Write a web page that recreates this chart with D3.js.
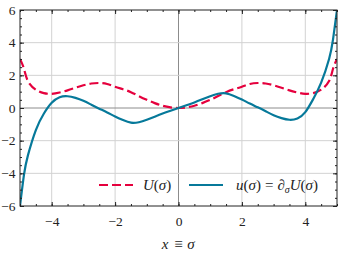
<!DOCTYPE html>
<html>
<head>
<meta charset="utf-8">
<script src="https://cdn.jsdelivr.net/npm/d3@7"></script>
<style>
  body { margin: 0; background: #fff; }
  text { font-family: "Liberation Serif", "DejaVu Serif", serif; fill: #222; }
</style>
</head>
<body>
<div id="chart"></div>
<script>
// values
var sigma = [-5, -4.875, -4.75, -4.5, -4.25, -4, -3.75, -3.5, -3.25, -3, -2.75, -2.5, -2.25, -2, -1.75, -1.5, -1.25, -1, -0.75, -0.5, -0.25,
  0, 0.25, 0.5, 0.75, 1, 1.25, 1.5, 1.75, 2, 2.25, 2.5, 2.75, 3, 3.25, 3.5, 3.75, 4, 4.25, 4.5, 4.75, 4.875, 5];
var potU = [3.0, 2.4, 1.65, 1.12, 0.91, 0.87, 0.95, 1.08, 1.24, 1.39, 1.5, 1.53, 1.47, 1.3, 1.15, 0.97, 0.73, 0.5, 0.3, 0.14, 0.04,
  0, 0.04, 0.14, 0.3, 0.5, 0.73, 0.97, 1.15, 1.3, 1.47, 1.53, 1.5, 1.39, 1.24, 1.08, 0.95, 0.87, 0.91, 1.12, 1.65, 2.4, 3.0];
var derivU = [-6.0, -4.1, -2.9, -1.35, -0.35, 0.32, 0.66, 0.72, 0.62, 0.44, 0.2, -0.04, -0.27, -0.52, -0.74, -0.9, -0.87, -0.72, -0.53, -0.34, -0.17,
  0, 0.17, 0.34, 0.53, 0.72, 0.87, 0.9, 0.74, 0.52, 0.27, 0.04, -0.2, -0.44, -0.62, -0.72, -0.64, -0.25, 0.55, 1.55, 3.0, 4.2, 6.0];
var xTicks = [-4, -2, 0, 2, 4];
var yTicks = [-6, -4, -2, 0, 2, 4, 6];

var W = 338, H = 257;
var x = d3.scaleLinear().domain([-5, 5]).range([20, 337]);
var y = d3.scaleLinear().domain([-6, 6]).range([206, 10]);
var red = '#e5003d', teal = '#06799a';

var svg = d3.select('#chart').append('svg')
    .attr('width', W)
    .attr('height', H);

svg.append('defs').append('clipPath').attr('id', 'clip')
  .append('rect')
    .attr('x', x(-5)).attr('y', y(6))
    .attr('width', x(5) - x(-5)).attr('height', y(-6) - y(6));

// grid
svg.append('g').selectAll('line').data(xTicks).join('line')
    .attr('x1', d => x(d)).attr('x2', d => x(d))
    .attr('y1', y(6)).attr('y2', y(-6))
    .attr('stroke', d => d === 0 ? '#8c8c8c' : '#d2d2d2')
    .attr('stroke-width', 1);
svg.append('g').selectAll('line').data(yTicks.filter(d => Math.abs(d) < 6)).join('line')
    .attr('y1', d => y(d)).attr('y2', d => y(d))
    .attr('x1', x(-5)).attr('x2', x(5))
    .attr('stroke', d => d === 0 ? '#8c8c8c' : '#d2d2d2')
    .attr('stroke-width', 1);

// curves
var line = d3.line().curve(d3.curveNatural);
var plot = svg.append('g').attr('clip-path', 'url(#clip)');
plot.append('path')
    .attr('d', line(sigma.map((s, i) => [x(s), y(potU[i])])))
    .attr('fill', 'none')
    .attr('stroke', red)
    .attr('stroke-width', 2.2)
    .attr('stroke-dasharray', '9,4');
plot.append('path')
    .attr('d', line(sigma.map((s, i) => [x(s), y(derivU[i])])))
    .attr('fill', 'none')
    .attr('stroke', teal)
    .attr('stroke-width', 2.2);

// axes, ticks inside on every side
var fmt = d => d < 0 ? '\u2212' + Math.abs(d) : String(d);
var minorX = d3.range(-5, 5.01, 0.5), minorY = d3.range(-6, 6.01, 0.5);
svg.append('g').attr('transform', 'translate(0,' + y(-6) + ')')
    .call(d3.axisBottom(x).tickValues(xTicks).tickSizeInner(-4).tickSizeOuter(0).tickPadding(10).tickFormat(fmt));
svg.append('g').attr('transform', 'translate(0,' + y(-6) + ')')
    .call(d3.axisBottom(x).tickValues(minorX).tickSizeInner(-2).tickSizeOuter(0).tickFormat(''));
svg.append('g').attr('transform', 'translate(0,' + y(6) + ')')
    .call(d3.axisTop(x).tickValues(xTicks).tickSizeInner(-4).tickSizeOuter(0).tickFormat(''));
svg.append('g').attr('transform', 'translate(0,' + y(6) + ')')
    .call(d3.axisTop(x).tickValues(minorX).tickSizeInner(-2).tickSizeOuter(0).tickFormat(''));
svg.append('g').attr('transform', 'translate(' + x(-5) + ',0)')
    .call(d3.axisLeft(y).tickValues(yTicks).tickSizeInner(-4).tickSizeOuter(0).tickPadding(4.5).tickFormat(fmt));
svg.append('g').attr('transform', 'translate(' + x(-5) + ',0)')
    .call(d3.axisLeft(y).tickValues(minorY).tickSizeInner(-2).tickSizeOuter(0).tickFormat(''));
svg.append('g').attr('transform', 'translate(' + x(5) + ',0)')
    .call(d3.axisRight(y).tickValues(yTicks).tickSizeInner(-4).tickSizeOuter(0).tickFormat(''));
svg.append('g').attr('transform', 'translate(' + x(5) + ',0)')
    .call(d3.axisRight(y).tickValues(minorY).tickSizeInner(-2).tickSizeOuter(0).tickFormat(''));
svg.selectAll('.domain').remove();
svg.selectAll('.tick line').attr('stroke', '#222');
svg.selectAll('.tick text')
    .attr('font-family', '"Liberation Serif", serif')
    .attr('font-size', 13.5)
    .attr('fill', '#222');

// frame
svg.append('rect')
    .attr('x', x(-5)).attr('y', y(6))
    .attr('width', x(5) - x(-5)).attr('height', y(-6) - y(6))
    .attr('fill', 'none')
    .attr('stroke', '#222')
    .attr('stroke-width', 1);

// x label
svg.append('text').attr('x', 165).attr('y', 249).attr('text-anchor', 'middle')
    .attr('font-size', 15).attr('font-style', 'italic').text('x');
svg.append('text').attr('x', 178.5).attr('y', 249).attr('text-anchor', 'middle')
    .attr('font-size', 15).text('\u2261');
svg.append('text').attr('x', 191).attr('y', 249).attr('text-anchor', 'middle')
    .attr('font-size', 15).attr('font-style', 'italic').text('\u03c3');

// legend
var ly = 185;
svg.append('line')
    .attr('x1', 99).attr('x2', 133).attr('y1', ly).attr('y2', ly)
    .attr('stroke', red).attr('stroke-width', 2.2).attr('stroke-dasharray', '9,4');
var t1 = svg.append('text').attr('x', 143).attr('y', ly + 5).attr('font-size', 15);
t1.append('tspan').attr('font-style', 'italic').text('U');
t1.append('tspan').text('(');
t1.append('tspan').attr('font-style', 'italic').text('\u03c3');
t1.append('tspan').text(')');

svg.append('line')
    .attr('x1', 189).attr('x2', 223).attr('y1', ly).attr('y2', ly)
    .attr('stroke', teal).attr('stroke-width', 2.2);
var t2 = svg.append('text').attr('x', 236).attr('y', ly + 5).attr('font-size', 15);
t2.append('tspan').attr('font-style', 'italic').text('u');
t2.append('tspan').text('(');
t2.append('tspan').attr('font-style', 'italic').text('\u03c3');
t2.append('tspan').text(')');
t2.append('tspan').attr('dx', 4).text('=');
t2.append('tspan').attr('dx', 4).text('\u2202');
t2.append('tspan').attr('font-style', 'italic').attr('font-size', 10).attr('dy', 3).text('\u03c3');
t2.append('tspan').attr('font-style', 'italic').attr('dy', -3).text('U');
t2.append('tspan').text('(');
t2.append('tspan').attr('font-style', 'italic').text('\u03c3');
t2.append('tspan').text(')');
</script>
</body>
</html>
